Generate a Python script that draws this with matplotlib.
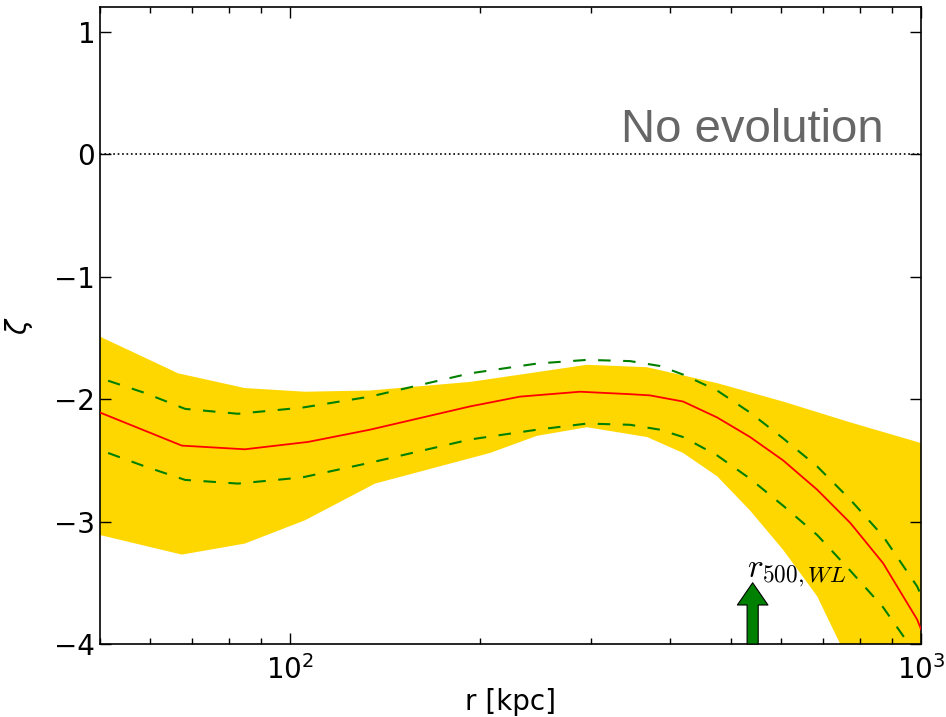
import numpy as np
import matplotlib
matplotlib.use("Agg")
import matplotlib.pyplot as plt

# data
r_mid = [50, 67.4, 84.8, 106.8, 133.9, 192.9, 231.5, 288.2, 345.9, 372, 419.7, 475.2,
         535.9, 604.4, 684.6, 772.1, 870.7, 986, 1000]
zeta_mid = [-2.11, -2.38, -2.41, -2.35, -2.25, -2.06, -1.98, -1.94, -1.96, -1.97, -2.02, -2.15,
            -2.31, -2.50, -2.74, -3.01, -3.34, -3.80, -3.88]

r_up = [51.5, 58.9, 68.2, 82.7, 104.5, 133.9, 192.9, 246.3, 295.6, 345.9, 385.8, 419.7,
        475.2, 535.9, 604.4, 684.6, 772.1, 870.7, 986, 1000]
zeta_up = [-1.85, -1.95, -2.08, -2.12, -2.07, -1.98, -1.79, -1.71, -1.68, -1.69, -1.73, -1.80,
           -1.93, -2.11, -2.32, -2.55, -2.82, -3.12, -3.53, -3.60]

r_lo = [51.5, 58.9, 68.2, 82.7, 104.5, 133.9, 192.9, 246.3, 295.6, 345.9, 385.8, 419.7,
        475.2, 535.9, 604.4, 684.6, 772.1, 870.7, 950.5]
zeta_lo = [-2.44, -2.55, -2.66, -2.69, -2.64, -2.52, -2.33, -2.25, -2.20, -2.21, -2.25, -2.31,
           -2.46, -2.65, -2.87, -3.11, -3.40, -3.70, -3.98]

r_band_up = [50, 66.5, 84.8, 105.6, 133.9, 192.9, 246.3, 295.6, 368, 475.2, 604.4, 772.1, 986, 1000]
band_up = [-1.49, -1.79, -1.91, -1.94, -1.93, -1.86, -1.78, -1.72, -1.74, -1.87, -2.02, -2.19, -2.35, -2.36]

r_band_lo = [50, 67.4, 84.8, 105.6, 136.4, 207.5, 246.3, 295.6, 368, 419.7, 475.2, 535.9,
             604.4, 684.6, 744.5, 870, 1000]
band_lo = [-3.11, -3.27, -3.18, -2.99, -2.69, -2.44, -2.30, -2.23, -2.31, -2.44, -2.63, -2.91,
           -3.23, -3.61, -4.00, -4.60, -5.00]

r500_wl = 541
arrow_top = -3.5

fig = plt.figure(figsize=(9.46, 7.17), dpi=100)
ax = fig.add_axes([0.1057, 0.1018, 0.9736 - 0.1057, 0.990 - 0.1018])

ax.fill(r_band_up + r_band_lo[::-1], band_up + band_lo[::-1], color='#FFD700', lw=0, zorder=1)
ax.plot(r_mid, zeta_mid, color='red', lw=1.3, zorder=3)
ax.plot(r_up, zeta_up, color='green', lw=1.5, ls=(0, (6, 6)), zorder=3)
ax.plot(r_lo, zeta_lo, color='green', lw=1.5, ls=(0, (6, 6)), zorder=3)
ax.axhline(0, color='black', ls=':', lw=1.2, zorder=2)

ax.annotate('', xy=(r500_wl, arrow_top), xytext=(r500_wl, -4.0),
            arrowprops=dict(facecolor='green', edgecolor='black', width=8,
                            headwidth=22, headlength=16, shrink=0, lw=0.8),
            zorder=5)
ax.text(530, -3.45, r'$r_{500,WL}$', fontsize=24, ha='left', va='baseline',
        math_fontfamily='cm', zorder=6)

ax.text(0.954, 0.788, 'No evolution', transform=ax.transAxes, ha='right', va='baseline',
        fontsize=34, color='#666666', family='Liberation Sans')

ax.set_xscale('log')
ax.set_xlim(50, 1000)
ax.set_ylim(-4, 1.2)
ax.set_yticks([-4, -3, -2, -1, 0, 1])
ax.set_yticklabels(['\u22124', '\u22123', '\u22122', '\u22121', '0', '1'])

ax.tick_params(which='both', direction='in', top=True, right=True, labelsize=20)
ax.tick_params(which='major', length=8, width=1)
ax.tick_params(which='minor', length=4, width=1)
ax.tick_params(axis='x', pad=8)
for s in ax.spines.values():
    s.set_linewidth(1.2)

ax.set_xlabel('r [kpc]', fontsize=20, labelpad=2)
ax.set_ylabel(r'$\zeta$', fontsize=20, labelpad=14)

fig.savefig('out.png', dpi=100)
